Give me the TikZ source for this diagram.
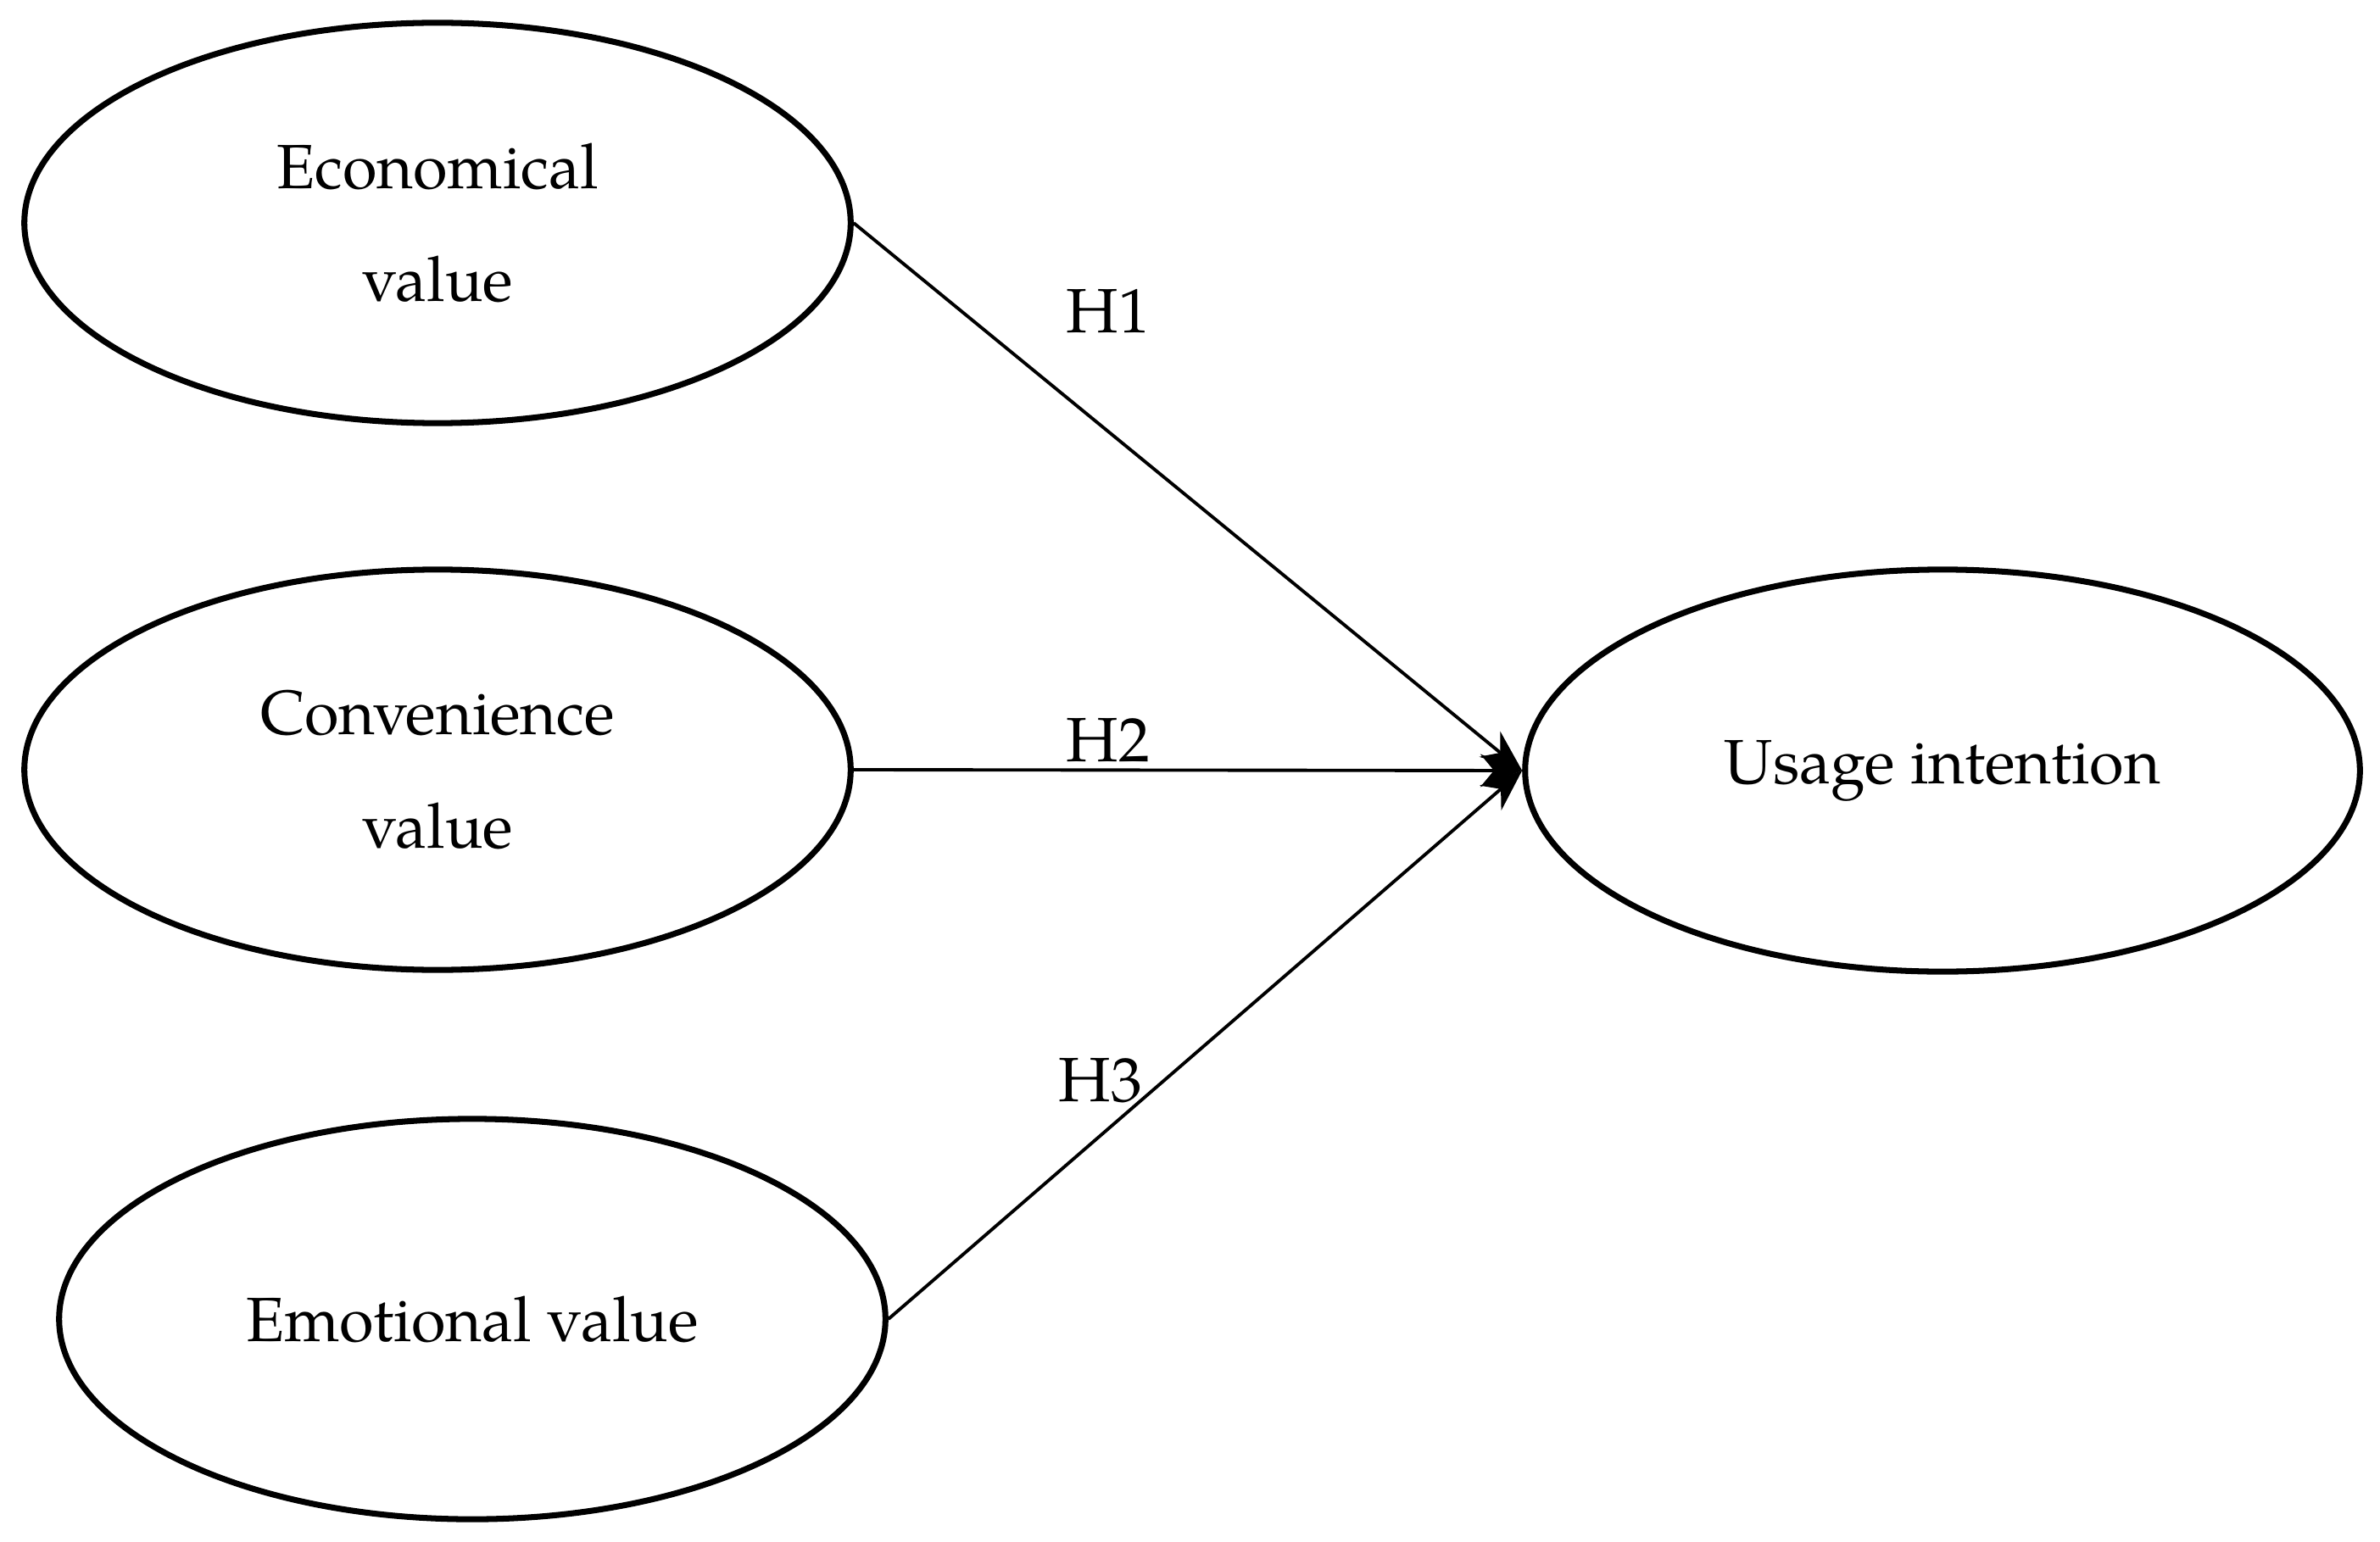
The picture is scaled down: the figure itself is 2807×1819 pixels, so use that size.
\documentclass[tikz,border=0pt]{standalone}
\usepackage{fontspec}
\setmainfont{TeX Gyre Pagella}
\usetikzlibrary{shapes.geometric,arrows.meta}
\begin{document}
\begin{tikzpicture}[x=0.01cm,y=-0.01cm,
 el/.style={ellipse,draw,line width=2pt,minimum width=9.74cm,minimum height=4.72cm,align=center,font=\fontsize{21}{38}\selectfont,inner sep=0pt},
 ar/.style={line width=1.1pt,-{Stealth[length=14pt,width=11pt]}},
 lb/.style={font=\fontsize{21}{25}\selectfont}]
\useasboundingbox (0,0) rectangle (2807,1819);
\node[el] (a) at (516,263) {Economical\\value};
\node[el] (b) at (516,908) {Convenience\\value};
\node[el] (c) at (557,1556) {Emotional value};
\node[el,minimum width=9.84cm,minimum height=4.74cm] (d) at (2291,909) {\raisebox{-6pt}{Usage intention}};
\coordinate (t) at (d.west);
\draw[ar] (a.east) -- (t);
\draw[ar] (b.east) -- (t);
\draw[ar] (c.east) -- (t);
\node[lb] (h1) at (1307,367) {H1};
\node[lb] (h2) at (1307,873) {H2};
\node[lb] (h3) at (1298,1275) {H3};
\end{tikzpicture}
\end{document}
